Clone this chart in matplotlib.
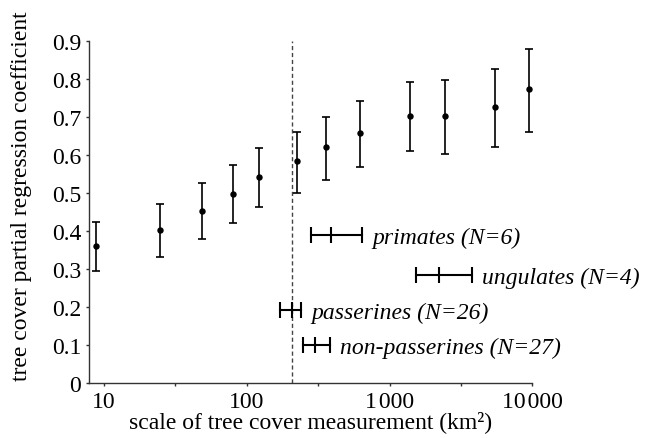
import matplotlib
matplotlib.use("Agg")
import matplotlib.pyplot as plt
import numpy as np
from matplotlib.ticker import FixedLocator, FixedFormatter

plt.rcParams['font.family'] = ['Liberation Serif', 'DejaVu Serif']
plt.rcParams['mathtext.fontset'] = 'stix'

# scale (km^2) and coefficient with confidence limits
scale = [8.83, 24.6, 48.7, 80.5, 121, 225, 360, 625, 1393, 2455, 5455, 9550]
coef = [0.361, 0.403, 0.454, 0.499, 0.544, 0.584, 0.621, 0.658, 0.703, 0.703, 0.726, 0.774]
upper = [0.424, 0.472, 0.526, 0.574, 0.620, 0.661, 0.702, 0.744, 0.794, 0.798, 0.826, 0.881]
lower = [0.296, 0.333, 0.379, 0.422, 0.463, 0.501, 0.535, 0.570, 0.611, 0.603, 0.623, 0.661]

# taxon home-range bars
groups = ["primates (N=6)", "ungulates (N=4)", "passerines (N=26)", "non-passerines (N=27)"]
grp_y = [0.39, 0.286, 0.193, 0.10]
grp_lo = [280, 1527, 170, 247]
grp_mid = [387, 2218, 207, 299]
grp_hi = [645, 3776, 239, 380]

threshold = 208

xticks = [10, 100, 1000, 10000]
xticklabels = ["10", "100", "1\u200a000", "10\u200a000"]
xminor = [31.62, 316.2, 3162]
yticks = [0, 0.1, 0.2, 0.3, 0.4, 0.5, 0.6, 0.7, 0.8, 0.9]
yticklabels = ["0", "0.1", "0.2", "0.3", "0.4", "0.5", "0.6", "0.7", "0.8", "0.9"]

fig = plt.figure(figsize=(6.53, 4.39), dpi=100)
ax = fig.add_axes([89/653, 1-384.3/439, (532.3-89)/653, (384.3-42.3)/439])

ax.set_xscale('log')
ax.set_xlim(7.86, 10000)
ax.set_ylim(0, 0.9)

coef_a = np.array(coef)
yerr = [coef_a - np.array(lower), np.array(upper) - coef_a]
ax.errorbar(scale, coef, yerr=yerr, fmt='o', color='black', ms=3.6,
            elinewidth=1.2, capsize=3.2, capthick=1.2, zorder=3)

ax.axvline(threshold, color='#444444', ls=(0, (3, 2)), lw=1.0, zorder=1)

for name, y, lo, mid, hi in zip(groups, grp_y, grp_lo, grp_mid, grp_hi):
    ax.plot([lo, hi], [y, y], color='black', lw=1.5, zorder=3)
    ax.plot([lo, mid, hi], [y, y, y], ls='none', marker='|', ms=11, mew=1.5,
            color='black', zorder=3)
    ax.annotate(name, xy=(hi, y), xytext=(7.5, 0), textcoords='offset points',
                ha='left', va='center_baseline', fontsize=17, style='italic',
                annotation_clip=False)

for s in ['top', 'right']:
    ax.spines[s].set_visible(False)
for s in ['left', 'bottom']:
    ax.spines[s].set_linewidth(1.0)
    ax.spines[s].set_color('#333333')

ax.xaxis.set_major_locator(FixedLocator(xticks))
ax.xaxis.set_major_formatter(FixedFormatter(xticklabels))
ax.xaxis.set_minor_locator(FixedLocator(xminor))
ax.xaxis.set_minor_formatter(FixedFormatter([]))
ax.set_yticks(yticks)
ax.set_yticklabels(yticklabels)
ax.tick_params(axis='both', which='both', direction='out', length=2.5, width=1.0,
               labelsize=17, pad=3, color='#333333')

ax.set_xlabel("scale of tree cover measurement (km\u00b2)", fontsize=17, labelpad=-1.5)
ax.set_ylabel("tree cover partial regression coefficient", fontsize=17)
ax.yaxis.set_label_coords(-0.129, 0.549)

fig.savefig("out.png", dpi=100)
